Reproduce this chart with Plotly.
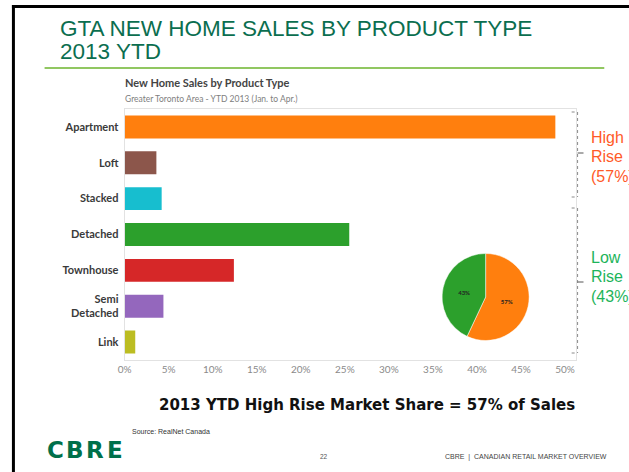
import plotly.graph_objects as go

W, H = 629, 472

# ---- data ----
categories = ["Apartment", "Loft", "Stacked", "Detached", "Townhouse", "Semi<br>Detached", "Link"]
shares = [48.9, 3.6, 4.2, 25.5, 12.4, 4.4, 1.2]
bar_colors = ["#ff7f0e", "#8c564b", "#17becf", "#2ca02c", "#d62728", "#9467bd", "#bcbd22"]
x_ticks = [0, 5, 10, 15, 20, 25, 30, 35, 40, 45, 50]
x_tick_labels = [f"{v}%" for v in x_ticks]
pie_labels = ["High Rise", "Low Rise"]
pie_values = [57, 43]
pie_colors = ["#ff7f0e", "#2ca02c"]


def X(px):
    return px / W


def Y(py):
    return 1 - py / H


fig = go.Figure()

fig.add_trace(go.Bar(
    y=categories, x=shares, orientation="h",
    marker=dict(color=bar_colors, line=dict(width=0)),
    showlegend=False, hoverinfo="skip",
))

fig.add_trace(go.Pie(
    labels=pie_labels, values=pie_values, sort=False, direction="clockwise", rotation=0,
    marker=dict(colors=pie_colors, line=dict(color="#ffffff", width=0.5)),
    text=[f"{v}%" for v in pie_values], textinfo="text", textposition="inside",
    insidetextfont=dict(size=6, color="#222", family="Lato", weight="bold"),
    domain=dict(x=[X(440), X(528)], y=[Y(341), Y(253)]),
    showlegend=False, hoverinfo="skip",
))

fig.update_layout(
    width=W, height=H,
    margin=dict(l=0, r=0, t=0, b=0),
    paper_bgcolor="white", plot_bgcolor="white",
    bargap=0.36,
    xaxis=dict(
        domain=[X(119), X(575)], range=[0, 51.2],
        tickvals=x_ticks, ticktext=x_tick_labels,
        tickfont=dict(family="Lato", size=10, color="#8a8a8a"),
        showgrid=False, zeroline=False,
        showline=True, mirror=True, linecolor="#e2e2e2", linewidth=1,
        ticks="", fixedrange=True,
    ),
    yaxis=dict(
        domain=[Y(360), Y(109)], autorange="reversed",
        tickfont=dict(family="Lato", size=11, color="#3a3a3a", weight="bold"),
        showgrid=False, zeroline=False,
        showline=True, mirror=True, linecolor="#e2e2e2", linewidth=1,
        ticks="", ticklabelstandoff=3,
    ),
)

ann = []


def txt(text, x, y, size, color, family="Liberation Sans", weight="normal", xanchor="left"):
    ann.append(dict(text=text, x=X(x), y=Y(y), xref="paper", yref="paper",
                    xanchor=xanchor, yanchor="middle", showarrow=False,
                    font=dict(size=size, color=color, family=family, weight=weight)))


title_green = "#0b6e4f"
txt("GTA NEW HOME SALES BY PRODUCT TYPE", 52, 29, 22.5, title_green)
txt("2013 YTD", 52, 51, 22.5, title_green)

txt("New Home Sales by Product Type", 117, 83, 11, "#444", family="Lato", weight="bold")
txt("Greater Toronto Area - YTD 2013 (Jan. to Apr.)", 117, 99, 8.5, "#808080", family="Lato")

hi_col = "#ff5a28"
lo_col = "#1db45a"
for i, t in enumerate(["High", "Rise", "(57%)"]):
    txt(t, 589, 137 + i * 19.5, 16, hi_col)
for i, t in enumerate(["Low", "Rise", "(43%)"]):
    txt(t, 589, 257 + i * 19.5, 16, lo_col)

txt("2013 YTD High Rise Market Share = 57% of Sales", 152, 405, 15, "#111", family="DejaVu Sans", weight="bold")
txt("Source: RealNet Canada", 124, 431, 7, "#333")

cbre_green = "#00704a"
for ch, cx in zip("CBRE", [49, 68.5, 89, 109]):
    txt(ch, cx, 450, 23, cbre_green, family="DejaVu Sans", weight="bold", xanchor="center")

txt("22", 321, 456, 6.5, "#555", xanchor="center")
txt("CBRE  |  CANADIAN RETAIL MARKET OVERVIEW", 441, 456.5, 7, "#444")

fig.update_layout(annotations=ann)

shapes = []


def line(x0, y0, x1, y1, color, width, dash="solid"):
    shapes.append(dict(type="line", xref="paper", yref="paper",
                       x0=X(x0), y0=Y(y0), x1=X(x1), y1=Y(y1),
                       line=dict(color=color, width=width, dash=dash)))


# slide frame
line(5, 6.5, 629, 6.5, "#000", 3)
line(6.5, 5, 6.5, 472, "#000", 3)
# title rule
line(38, 68, 604, 68, "#6cb52d", 1.5)
# brackets
bc = "#8a8a8a"
for top, mid, bot in [(112, 153, 197), (208, 282, 353)]:
    line(571, top, 577, top, bc, 1, "dot")
    line(577, top, 577, bot, bc, 1, "dot")
    line(571, bot, 577, bot, bc, 1, "dot")
    line(577, mid, 583, mid, "#555", 1)

fig.update_layout(shapes=shapes)

fig.write_html(
    "out.html",
    config={"displayModeBar": False},
    post_script="document.body.style.margin='0';document.body.style.overflow='hidden';",
)
